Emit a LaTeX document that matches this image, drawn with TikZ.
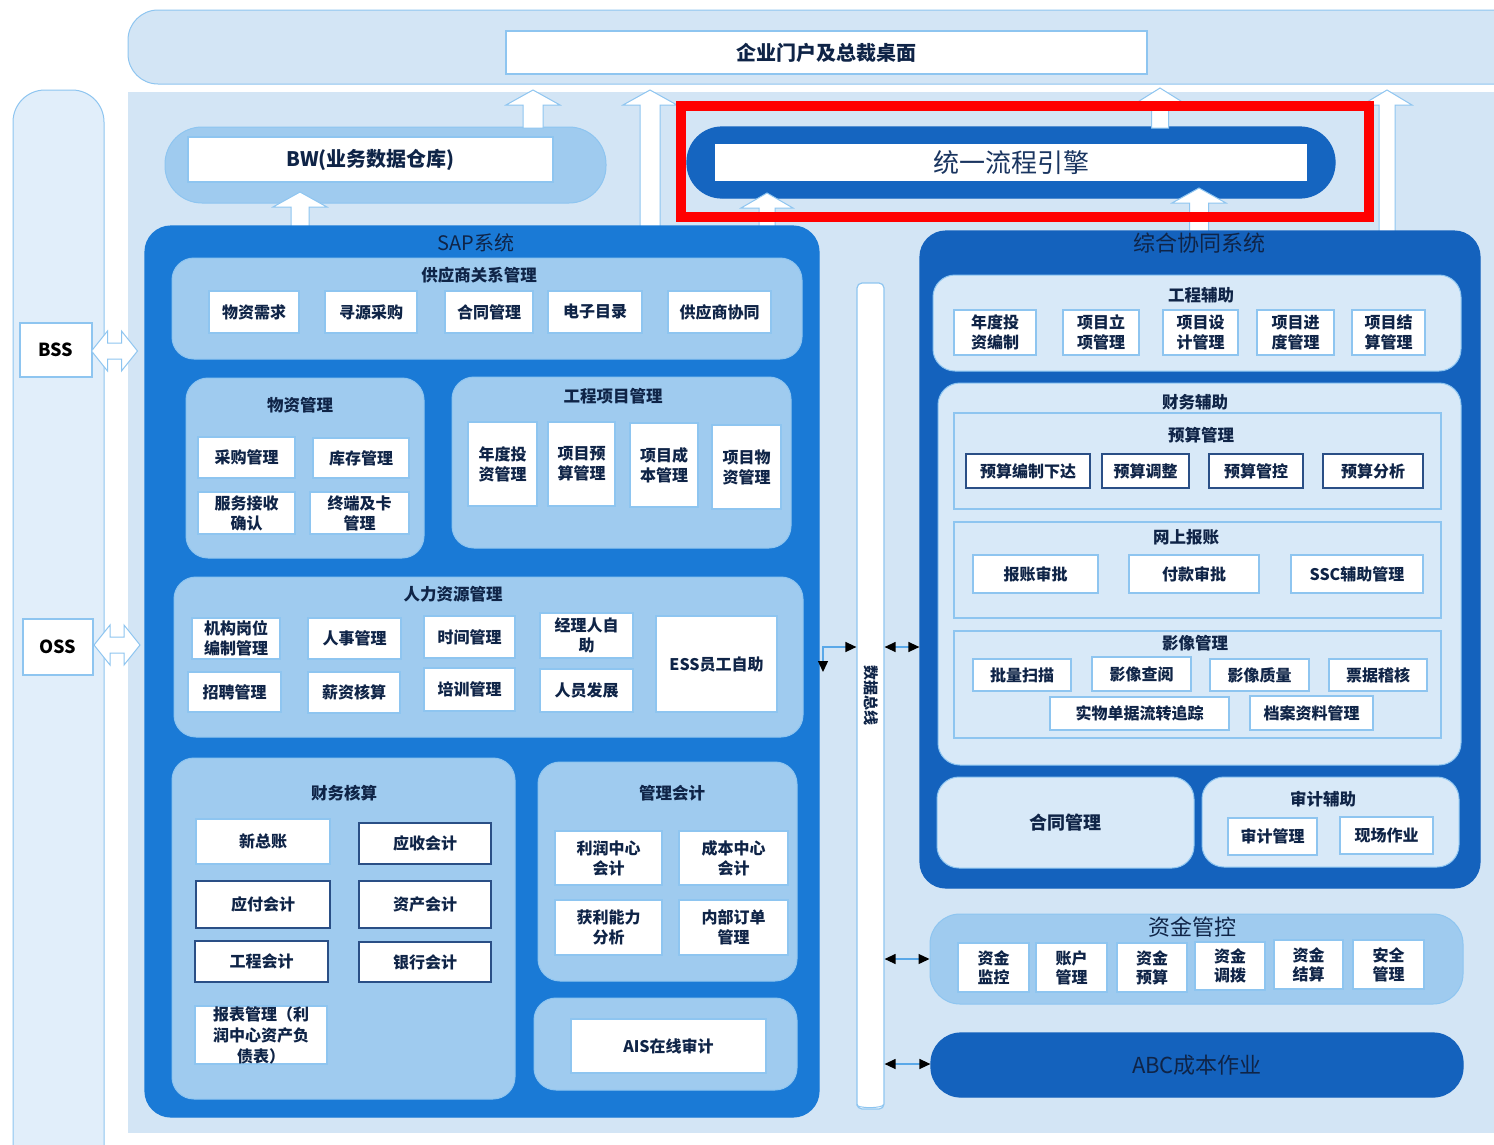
\documentclass[tikz,border=0pt]{standalone}
\usepackage{fontspec}
\setmainfont{Noto Sans CJK SC}
\usetikzlibrary{arrows.meta,calc}
\definecolor{bg}{HTML}{D3E5F5}
\definecolor{edge}{HTML}{8EC5F0}
\definecolor{sapc}{HTML}{1A7AD6}
\definecolor{zhc}{HTML}{1462BD}
\definecolor{grp}{HTML}{9FCBEF}
\definecolor{lgrp}{HTML}{D8E9F8}
\definecolor{txt}{HTML}{0F2447}
\definecolor{dk}{HTML}{2A4F86}
\definecolor{colL}{HTML}{E1EEFA}
\definecolor{eng}{HTML}{1565C0}
\definecolor{conn}{HTML}{5AA8E8}
\definecolor{engtxt}{HTML}{1A3560}
\newcommand{\bxf}{\bfseries\fontsize{16}{20}\selectfont}
\newcommand{\ttf}{\bfseries\fontsize{16.5}{20}\selectfont}
\newcommand{\bigf}{\mdseries\fontsize{22}{26}\selectfont}
\newcommand{\mybox}[7][]{%
  \pgfmathsetmacro\mbw{#5-#3}%
  \pgfmathsetmacro\mbh{#6-#4}%
  \pgfmathsetmacro\mbx{(#3+#5)/2}%
  \pgfmathsetmacro\mby{(#4+#6)/2}%
  \node[wbox,minimum width=\mbw pt,minimum height=\mbh pt,#1] (#2) at (\mbx,\mby) {#7};}
\newcommand{\uparr}[5]{% x ytop ybot shafthalf headhalf
  \draw[harrow] (#1-#4,#3) -- (#1-#4,#2+15) -- (#1-#5,#2+15) -- (#1,#2) -- (#1+#5,#2+15) -- (#1+#4,#2+15) -- (#1+#4,#3) -- cycle;}
\newcommand{\dblarr}[2]{% cx cy
  \draw[harrow] (#1-23,#2) -- (#1-7,#2-20) -- (#1-7,#2-8) -- (#1+7,#2-8) -- (#1+7,#2-20) -- (#1+23,#2) -- (#1+7,#2+20) -- (#1+7,#2+8) -- (#1-7,#2+8) -- (#1-7,#2+20) -- cycle;}
\tikzset{
  wbox/.style={draw=edge, fill=white, line width=1.2pt, inner sep=0pt, align=center, font=\bxf, text=txt},
  grpst/.style={fill=grp, draw=edge, line width=1pt, rounded corners=22pt},
  lgrpst/.style={fill=lgrp, draw=edge, line width=1pt, rounded corners=22pt},
  rectst/.style={fill=lgrp, draw=edge, line width=1.2pt},
  dkb/.style={draw=dk, line width=1.8pt},
  ttl/.style={text=txt, font=\ttf, inner sep=0pt},
  harrow/.style={fill=white, draw=edge, line width=1pt, line join=miter},
  tipboth/.style={draw=conn, line width=1.3pt, arrows={Triangle[length=11pt,width=10pt,color=black]-Triangle[length=11pt,width=10pt,color=black]}}
}
\begin{document}
\begin{tikzpicture}[x=1pt,y=-1pt]
\clip (0,0) rectangle (1494,1144);
\fill[white] (0,0) rectangle (1494,1144);
% backgrounds
\mybox[fill=bg, draw=edge, line width=1pt, rounded corners=30pt]{band}{128}{10}{1530}{84}{}
\mybox[fill=bg, draw=bg, line width=1pt]{mainbg}{128}{92}{1494}{1132}{}
\mybox[fill=colL, draw=edge, line width=1pt, rounded corners=32pt]{leftcol}{13}{90}{104}{1180}{}
\mybox[font=\bfseries\fontsize{20}{24}\selectfont]{portal}{506}{31}{1147}{74}{企业门户及总裁桌面}
% BSS / OSS
\mybox[font=\bfseries\fontsize{18}{20}\selectfont, text=black]{bss}{20}{323}{92}{377}{BSS}
\mybox[font=\bfseries\fontsize{18}{20}\selectfont, text=black]{oss}{23}{619}{93}{675}{OSS}
\dblarr{114.5}{351}
\dblarr{117}{645}
% BW
\mybox[grpst, rounded corners=37pt]{bw}{165}{127}{606}{203}{}
\mybox[font=\bfseries\fontsize{20}{24}\selectfont]{bwin}{188}{137}{553}{182}{BW(业务数据仓库)}
% engine
\mybox[fill=eng, draw=eng, rounded corners=35pt]{engine}{687}{127}{1335}{198}{}
\mybox[draw=none, font=\mdseries\fontsize{26}{30}\selectfont, text=engtxt]{enginein}{715}{144}{1307}{181}{统一流程引擎}
% hollow block arrows
\uparr{533}{90}{128}{10}{27}
\uparr{650}{90}{240}{10}{27}
\uparr{300}{192}{240}{9}{27}
\uparr{767}{193}{240}{8}{26}
\uparr{1160}{88}{128}{8.5}{24}
\uparr{1199}{188}{240}{9.5}{27}
\uparr{1387}{90}{240}{8}{25}
% data bus
\mybox[rounded corners=5pt, line width=1.2pt]{bus}{857}{283}{884}{1109}{}
\draw[edge, line width=1pt] (bus.south west) ++(0,-5) arc[start angle=180, end angle=360, x radius=13.5, y radius=-3];
\node[ttl, rotate=-90, font=\bfseries\fontsize{15}{18}\selectfont] (bustext) at (871,695) {数据总线};
% ================= SAP =================
\mybox[fill=sapc, draw=sapc, rounded corners=26pt]{sap}{145}{226}{819}{1117}{}
\node[ttl, font=\mdseries\fontsize{20}{24}\selectfont] (saptitle) at (476,243) {SAP系统};
% supplier
\mybox[grpst]{sup}{172}{258}{802}{359}{}
\node[ttl] (tsup) at (479,275) {供应商关系管理};
\mybox{s1}{209}{291}{299}{333}{物资需求}
\mybox{s2}{325}{291}{417}{333}{寻源采购}
\mybox{s3}{445}{291}{533}{333}{合同管理}
\mybox{s4}{548}{291}{642}{333}{电子目录}
\mybox{s5}{668}{291}{771}{333}{供应商协同}
% material
\mybox[grpst]{wz}{186}{378}{424}{558}{}
\node[ttl] (twz) at (300,405) {物资管理};
\mybox{w1}{198}{437}{295}{478}{采购管理}
\mybox{w2}{313}{438}{409}{478}{库存管理}
\mybox{w3}{198}{492}{295}{534}{服务接收\\确认}
\mybox{w4}{310}{492}{409}{534}{终端及卡\\管理}
% project
\mybox[grpst]{gc}{452}{377}{791}{548}{}
\node[ttl] (tgc) at (613,396) {工程项目管理};
\mybox{g1}{468}{422}{537}{506}{年度投\\资管理}
\mybox{g2}{548}{422}{615}{506}{项目预\\算管理}
\mybox{g3}{630}{423}{698}{507}{项目成\\本管理}
\mybox{g4}{712}{425}{781}{509}{项目物\\资管理}
% HR
\mybox[grpst]{hr}{174}{577}{803}{737}{}
\node[ttl] (thr) at (453,594) {人力资源管理};
\mybox{h1}{192}{618}{280}{659}{机构岗位\\编制管理}
\mybox{h2}{308}{618}{401}{659}{人事管理}
\mybox{h3}{424}{616}{515}{658}{时间管理}
\mybox{h4}{540}{613}{633}{658}{经理人自\\助}
\mybox{h5}{656}{616}{777}{712}{ESS员工自助}
\mybox{h6}{188}{672}{281}{712}{招聘管理}
\mybox{h7}{308}{672}{400}{713}{薪资核算}
\mybox{h8}{424}{668}{515}{711}{培训管理}
\mybox{h9}{540}{669}{633}{712}{人员发展}
% financial accounting
\mybox[grpst]{cw}{172}{758}{515}{1099}{}
\node[ttl] (tcw) at (344,793) {财务核算};
\mybox{c1}{196}{819}{330}{864}{新总账}
\mybox[dkb]{c2}{359}{823}{491}{864}{应收会计}
\mybox[dkb]{c3}{196}{881}{330}{928}{应付会计}
\mybox[dkb]{c4}{359}{881}{491}{928}{资产会计}
\mybox[dkb]{c5}{195}{941}{328}{982}{工程会计}
\mybox[dkb]{c6}{359}{942}{491}{982}{银行会计}
\mybox[font=\bfseries\fontsize{16}{21}\selectfont]{c7}{195}{1006}{327}{1064}{报表管理（利\\润中心资产负\\债表）}
% management accounting
\mybox[grpst]{gl}{538}{762}{797}{981}{}
\node[ttl] (tgl) at (672,793) {管理会计};
\mybox{m1}{555}{831}{662}{885}{利润中心\\会计}
\mybox{m2}{679}{831}{788}{885}{成本中心\\会计}
\mybox{m3}{555}{900}{662}{955}{获利能力\\分析}
\mybox{m4}{679}{900}{788}{955}{内部订单\\管理}
% AIS
\mybox[grpst]{ais}{534}{998}{797}{1090}{}
\mybox{aisin}{571}{1019}{766}{1073}{AIS在线审计}
% ================= 综合协同系统 =================
\mybox[fill=zhc, draw=zhc, rounded corners=26pt]{zh}{920}{231}{1480}{888}{}
\node[ttl, font=\bigf] (tzh) at (1199,243) {综合协同系统};
\mybox[lgrpst]{gcfz}{933}{275}{1461}{371}{}
\node[ttl] (tgcfz) at (1201,295) {工程辅助};
\mybox{e1}{954}{310}{1036}{355}{年度投\\资编制}
\mybox{e2}{1063}{310}{1139}{355}{项目立\\项管理}
\mybox{e3}{1163}{310}{1238}{355}{项目设\\计管理}
\mybox{e4}{1257}{310}{1334}{355}{项目进\\度管理}
\mybox{e5}{1352}{310}{1425}{355}{项目结\\算管理}
\mybox[lgrpst]{cwfz}{938}{383}{1461}{765}{}
\node[ttl] (tcwfz) at (1195,402) {财务辅助};
\mybox[rectst]{ys}{954}{413}{1441}{509}{}
\node[ttl] (tys) at (1201,435) {预算管理};
\mybox[dkb]{y1}{966}{454}{1090}{488}{预算编制下达}
\mybox[dkb]{y2}{1102}{454}{1189}{488}{预算调整}
\mybox[dkb]{y3}{1209}{454}{1303}{488}{预算管控}
\mybox[dkb]{y4}{1323}{454}{1423}{488}{预算分析}
\mybox[rectst]{ws}{954}{522}{1441}{618}{}
\node[ttl] (tws) at (1186,537) {网上报账};
\mybox{b1}{973}{555}{1098}{593}{报账审批}
\mybox{b2}{1129}{555}{1259}{593}{付款审批}
\mybox{b3}{1291}{555}{1423}{593}{SSC辅助管理}
\mybox[rectst]{yx}{954}{631}{1441}{738}{}
\node[ttl] (tyx) at (1195,643) {影像管理};
\mybox{x1}{973}{659}{1071}{691}{批量扫描}
\mybox{x2}{1092}{657}{1191}{691}{影像查阅}
\mybox{x3}{1210}{659}{1309}{691}{影像质量}
\mybox{x4}{1329}{659}{1427}{691}{票据稽核}
\mybox{x5}{1050}{697}{1229}{730}{实物单据流转追踪}
\mybox{x6}{1250}{696}{1373}{730}{档案资料管理}
\mybox[lgrpst, font=\bfseries\fontsize{18}{22}\selectfont]{ht}{937}{777}{1194}{868}{合同管理}
\mybox[lgrpst]{sj}{1202}{777}{1459}{867}{}
\node[ttl] (tsj) at (1323,799) {审计辅助};
\mybox{a1}{1228}{818}{1317}{855}{审计管理}
\mybox{a2}{1340}{817}{1433}{854}{现场作业}
% ================= 资金管控 =================
\mybox[grpst, rounded corners=30pt]{fund}{930}{914}{1463}{1004}{}
\node[ttl, font=\bigf] (tfund) at (1192,927) {资金管控};
\mybox[font=\bfseries\fontsize{16}{19}\selectfont]{f1}{958}{943}{1029}{992}{资金\\监控}
\mybox[font=\bfseries\fontsize{16}{19}\selectfont]{f2}{1036}{943}{1107}{992}{账户\\管理}
\mybox[font=\bfseries\fontsize{16}{19}\selectfont]{f3}{1117}{943}{1187}{992}{资金\\预算}
\mybox[font=\bfseries\fontsize{16}{19}\selectfont]{f4}{1195}{942}{1265}{990}{资金\\调拨}
\mybox[font=\bfseries\fontsize{16}{19}\selectfont]{f5}{1274}{940}{1343}{989}{资金\\结算}
\mybox[font=\bfseries\fontsize{16}{19}\selectfont]{f6}{1353}{940}{1424}{989}{安全\\管理}
% ABC
\mybox[fill=zhc, draw=zhc, rounded corners=30pt, font=\bigf]{abc}{931}{1033}{1463}{1097}{ABC成本作业}
% ================= connectors =================
\coordinate (joint) at (823,647);
\coordinate (jdown) at (823,672);
\draw[tipboth] (jdown) -- (joint) -- (bus.west |- joint);
\draw[tipboth] (bus.east |- joint) -- (zh.west |- joint);
\coordinate (fy) at (0,959);
\draw[tipboth] (bus.east |- fy) -- (fund.west |- fy);
\coordinate (ay) at (0,1064);
\draw[tipboth] (bus.east |- ay) -- (abc.west |- ay);
% red highlight
\draw[red, line width=10pt] (681,106) rectangle (1369,217);
\end{tikzpicture}
\end{document}
